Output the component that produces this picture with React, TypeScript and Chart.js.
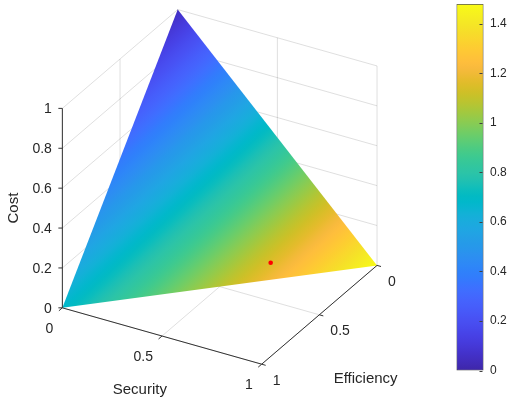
import React, { useEffect, useRef } from "react";
import { Chart, registerables } from "chart.js";
Chart.register(...registerables);

// ---------------- data ----------------
const securityTicks = [0, 0.5, 1];
const efficiencyTicks = [0, 0.5, 1];
const costTicks = [0, 0.2, 0.4, 0.6, 0.8, 1];
const colorbarTicks = [0, 0.2, 0.4, 0.6, 0.8, 1, 1.2, 1.4];
const colorLimits = [0, 1.48];

// simplex vertices (Security, Efficiency, Cost) and their colour values
const vertexSecurity = [0, 0, 1];
const vertexEfficiency = [0, 1, 0];
const vertexCost = [1, 0, 0];
const vertexValue = [0.05, 0.68, 1.48];

// highlighted point
const markerSecurity = [0.64];
const markerEfficiency = [0.3];
const markerCost = [0.06];

const titleSecurity = "Security";
const titleEfficiency = "Efficiency";
const titleCost = "Cost";

// ---------------- styles / view ----------------
const W = 508;
const H = 402;
const FONT = '"Liberation Sans", Arial, Helvetica, sans-serif';
const TEXT = "#262626";
const AXIS = "#333333";
const GRID = "rgba(38,38,38,0.15)";

// orthographic 3-D view (MATLAB style): origin of (0,0,0) and unit vectors
const VIEW = { ox: 176.5, oy: 209.2, sx: 202.5, sy: 57.5, ex: -117.2, ey: 100.8, cy: -203.5 };
function project(s: number, e: number, c: number) {
  return {
    x: VIEW.ox + VIEW.sx * s + VIEW.ex * e,
    y: VIEW.oy + VIEW.sy * s + VIEW.ey * e + VIEW.cy * c,
  };
}

const PARULA: number[][] = [
  [0.2422, 0.1504, 0.6603], [0.2504, 0.165, 0.7076], [0.2578, 0.1818, 0.7511], [0.2647, 0.1978, 0.7952],
  [0.2706, 0.2147, 0.8364], [0.2751, 0.2342, 0.871], [0.2783, 0.2559, 0.8991], [0.2803, 0.2782, 0.9221],
  [0.2813, 0.3006, 0.9414], [0.281, 0.3228, 0.9579], [0.2795, 0.3447, 0.9717], [0.276, 0.3667, 0.9829],
  [0.2699, 0.3892, 0.9906], [0.2602, 0.4123, 0.9952], [0.244, 0.4358, 0.9988], [0.2206, 0.4603, 0.9973],
  [0.1963, 0.4847, 0.9892], [0.1834, 0.5074, 0.9798], [0.1786, 0.5289, 0.9682], [0.1764, 0.5499, 0.952],
  [0.1687, 0.5703, 0.9359], [0.154, 0.5902, 0.9218], [0.146, 0.6091, 0.9079], [0.138, 0.6276, 0.8973],
  [0.1248, 0.6459, 0.8883], [0.1113, 0.6635, 0.8763], [0.0952, 0.6798, 0.8598], [0.0689, 0.6948, 0.8394],
  [0.0297, 0.7082, 0.8163], [0.0036, 0.7203, 0.7917], [0.0067, 0.7312, 0.766], [0.0433, 0.7411, 0.7394],
  [0.0964, 0.75, 0.712], [0.1408, 0.7584, 0.6842], [0.1717, 0.767, 0.6554], [0.1938, 0.7758, 0.6251],
  [0.2161, 0.7843, 0.5923], [0.247, 0.7918, 0.5567], [0.2906, 0.7973, 0.5188], [0.3406, 0.8008, 0.4789],
  [0.3909, 0.8029, 0.4354], [0.4456, 0.8024, 0.3909], [0.5044, 0.7993, 0.348], [0.5616, 0.7942, 0.3045],
  [0.6174, 0.7876, 0.2612], [0.672, 0.7793, 0.2227], [0.7242, 0.7698, 0.191], [0.7738, 0.7598, 0.1646],
  [0.8203, 0.7498, 0.1535], [0.8634, 0.7406, 0.1596], [0.9035, 0.733, 0.1774], [0.9393, 0.7288, 0.21],
  [0.9728, 0.7298, 0.2394], [0.9956, 0.7434, 0.2371], [0.997, 0.7659, 0.2199], [0.9952, 0.7893, 0.2028],
  [0.9892, 0.8136, 0.1885], [0.9786, 0.8386, 0.1766], [0.9676, 0.8639, 0.1643], [0.961, 0.889, 0.1537],
  [0.9597, 0.9135, 0.1423], [0.9628, 0.9373, 0.1265], [0.9691, 0.9606, 0.1064], [0.9769, 0.9839, 0.0805],
];
const rgb = (c: number[]) => `rgb(${Math.round(c[0] * 255)},${Math.round(c[1] * 255)},${Math.round(c[2] * 255)})`;
const fmt = (v: number) => String(Number(v.toFixed(2)));

function addParulaStops(g: CanvasGradient) {
  PARULA.forEach((c, i) => g.addColorStop(i / (PARULA.length - 1), rgb(c)));
  return g;
}

function triangleGradient(chart: any) {
  const xs = chart.scales.x;
  const ys = chart.scales.y;
  if (!xs || !ys || !chart.chartArea) return rgb(PARULA[32]);
  const P = vertexSecurity.map((s, i) => {
    const p = project(s, vertexEfficiency[i], vertexCost[i]);
    return [xs.getPixelForValue(p.x), ys.getPixelForValue(p.y)];
  });
  const [f0, f1, f2] = vertexValue;
  const a1 = P[1][0] - P[0][0], b1 = P[1][1] - P[0][1], d1 = f1 - f0;
  const a2 = P[2][0] - P[0][0], b2 = P[2][1] - P[0][1], d2 = f2 - f0;
  const det = a1 * b2 - a2 * b1;
  const gx = (d1 * b2 - d2 * b1) / det;
  const gy = (a1 * d2 - a2 * d1) / det;
  const g2 = gx * gx + gy * gy;
  const k0 = (colorLimits[0] - f0) / g2;
  const k1 = (colorLimits[1] - f0) / g2;
  const grad = chart.ctx.createLinearGradient(
    P[0][0] + k0 * gx, P[0][1] + k0 * gy, P[0][0] + k1 * gx, P[0][1] + k1 * gy
  );
  return addParulaStops(grad);
}

type Seg = [number[], number[]];
function gridSegments(): Seg[] {
  const segs: Seg[] = [];
  // back wall Security = 0
  efficiencyTicks.forEach((e) => segs.push([[0, e, 0], [0, e, 1]]));
  costTicks.forEach((c) => segs.push([[0, 0, c], [0, 1, c]]));
  // back wall Efficiency = 0
  securityTicks.forEach((s) => segs.push([[s, 0, 0], [s, 0, 1]]));
  costTicks.forEach((c) => segs.push([[0, 0, c], [1, 0, c]]));
  // floor Cost = 0
  securityTicks.forEach((s) => segs.push([[s, 0, 0], [s, 1, 0]]));
  efficiencyTicks.forEach((e) => segs.push([[0, e, 0], [1, e, 0]]));
  return segs;
}

function axisSegments(): Seg[] {
  const segs: Seg[] = [];
  segs.push([[0, 1, 0], [0, 1, 1]]); // cost axis
  segs.push([[0, 1, 0], [1, 1, 0]]); // security axis
  segs.push([[1, 0, 0], [1, 1, 0]]); // efficiency axis
  securityTicks.forEach((s) => segs.push([[s, 1, 0], [s, 1.03, 0]]));
  efficiencyTicks.forEach((e) => segs.push([[1, e, 0], [1.02, e, 0]]));
  return segs;
}

const segDataset = (seg: Seg, color: string, order: number) => ({
  data: seg.map((p) => project(p[0], p[1], p[2])),
  borderColor: color,
  borderWidth: 1,
  pointRadius: 0,
  fill: false,
  order,
});

const labelsPlugin = {
  id: "axisLabels",
  afterDraw(chart: any) {
    const { ctx } = chart;
    const xs = chart.scales.x;
    const ys = chart.scales.y;
    const px = (p: { x: number; y: number }) => [xs.getPixelForValue(p.x), ys.getPixelForValue(p.y)];
    ctx.save();
    ctx.fillStyle = TEXT;
    ctx.strokeStyle = AXIS;
    ctx.lineWidth = 1;
    // cost tick marks (horizontal)
    costTicks.forEach((c) => {
      const [x, y] = px(project(0, 1, c));
      ctx.beginPath();
      ctx.moveTo(x - 4, y);
      ctx.lineTo(x, y);
      ctx.stroke();
    });
    ctx.font = `14px ${FONT}`;
    ctx.textBaseline = "middle";
    ctx.textAlign = "right";
    costTicks.forEach((c) => {
      const [x, y] = px(project(0, 1, c));
      ctx.fillText(fmt(c), x - 10.5, y + 1);
    });
    securityTicks.forEach((s) => {
      const [x, y] = px(project(s, 1, 0));
      ctx.fillText(fmt(s), x - 9, y + 21);
    });
    ctx.textAlign = "left";
    efficiencyTicks.forEach((e) => {
      const [x, y] = px(project(1, e, 0));
      ctx.fillText(fmt(e), x + 11, y + 16.5);
    });
    ctx.font = `15px ${FONT}`;
    ctx.textAlign = "center";
    {
      const [x, y] = px(project(0.5, 1, 0));
      ctx.fillText(titleSecurity, x - 22.2, y + 53.5);
    }
    {
      const [x, y] = px(project(1, 0.5, 0));
      ctx.fillText(titleEfficiency, x + 46.3, y + 64.2);
    }
    {
      const [x, y] = px(project(0, 1, 0.5));
      ctx.translate(x - 48.3, y);
      ctx.rotate(-Math.PI / 2);
      ctx.fillText(titleCost, 0, 0);
    }
    ctx.restore();
  },
};

const cbTicksPlugin = {
  id: "cbTicks",
  afterDatasetsDraw(chart: any) {
    const y = chart.scales.y;
    const { ctx, chartArea } = chart;
    ctx.save();
    ctx.strokeStyle = "#404040";
    ctx.lineWidth = 1;
    y.ticks.forEach((t: any) => {
      const py = Math.round(y.getPixelForValue(t.value)) + 0.5;
      ctx.beginPath();
      ctx.moveTo(chartArea.right - 4, py);
      ctx.lineTo(chartArea.right - 1, py);
      ctx.stroke();
    });
    ctx.restore();
  },
};

export default function App() {
  const mainRef = useRef<HTMLCanvasElement>(null);
  const barRef = useRef<HTMLCanvasElement>(null);

  useEffect(() => {
    const datasets: any[] = [];
    datasets.push({
      data: markerSecurity.map((s, i) => project(s, markerEfficiency[i], markerCost[i])),
      showLine: false,
      pointRadius: 2.3,
      pointBackgroundColor: "#ff0000",
      pointBorderWidth: 0,
      order: 0,
    });
    axisSegments().forEach((s) => datasets.push(segDataset(s, AXIS, 1)));
    datasets.push({
      data: vertexSecurity.map((s, i) => project(s, vertexEfficiency[i], vertexCost[i])),
      fill: "shape",
      backgroundColor: (ctx: any) => triangleGradient(ctx.chart),
      borderWidth: 0,
      pointRadius: 0,
      order: 2,
    });
    gridSegments().forEach((s) => datasets.push(segDataset(s, GRID, 3)));

    const main = new Chart(mainRef.current as HTMLCanvasElement, {
      type: "line",
      data: { datasets },
      options: {
        animation: false,
        responsive: false,
        devicePixelRatio: 1,
        events: [],
        layout: { padding: 0 },
        plugins: { legend: { display: false }, tooltip: { enabled: false } },
        scales: {
          x: { type: "linear", min: 0, max: W, display: false },
          y: { type: "linear", min: 0, max: H, reverse: true, display: false },
        },
      } as any,
      plugins: [labelsPlugin],
    });

    const cb = new Chart(barRef.current as HTMLCanvasElement, {
      type: "bar",
      data: {
        labels: [""],
        datasets: [
          {
            data: [colorLimits[1]],
            base: colorLimits[0],
            backgroundColor: (ctx: any) => {
              const ch = ctx.chart;
              const y = ch.scales.y;
              if (!ch.chartArea || !y) return rgb(PARULA[32]);
              const g = ch.ctx.createLinearGradient(
                0, y.getPixelForValue(colorLimits[0]), 0, y.getPixelForValue(colorLimits[1])
              );
              return addParulaStops(g);
            },
            borderColor: "#555555",
            borderWidth: 1,
            borderSkipped: false,
            barPercentage: 1,
            categoryPercentage: 1,
          } as any,
        ],
      },
      options: {
        animation: false,
        responsive: false,
        devicePixelRatio: 1,
        events: [],
        layout: { padding: { left: 456.5, top: 4, bottom: 31.5, right: 0 } },
        plugins: { legend: { display: false }, tooltip: { enabled: false } },
        scales: {
          x: { display: false },
          y: {
            position: "right",
            min: colorLimits[0],
            max: colorLimits[1],
            grid: { display: false, drawTicks: false, tickLength: 0 },
            border: { display: false },
            ticks: {
              padding: 6.5,
              color: TEXT,
              font: { family: FONT, size: 12 },
              autoSkip: false,
              callback: (v: any) => fmt(Number(v)),
            },
            afterBuildTicks: (s: any) => {
              s.ticks = colorbarTicks.map((v) => ({ value: v }));
            },
            afterFit: (s: any) => {
              s.width = W - 483.5;
              s.paddingTop = 0;
              s.paddingBottom = 0;
            },
          },
        },
      } as any,
      plugins: [cbTicksPlugin],
    });

    return () => {
      main.destroy();
      cb.destroy();
    };
  }, []);

  return (
    <div style={{ position: "absolute", left: 0, top: 0, width: W, height: H, background: "#ffffff" }}>
      <canvas ref={mainRef} width={W} height={H} style={{ position: "absolute", left: 0, top: 0, width: W, height: H }} />
      <canvas ref={barRef} width={W} height={H} style={{ position: "absolute", left: 0, top: 0, width: W, height: H }} />
    </div>
  );
}
